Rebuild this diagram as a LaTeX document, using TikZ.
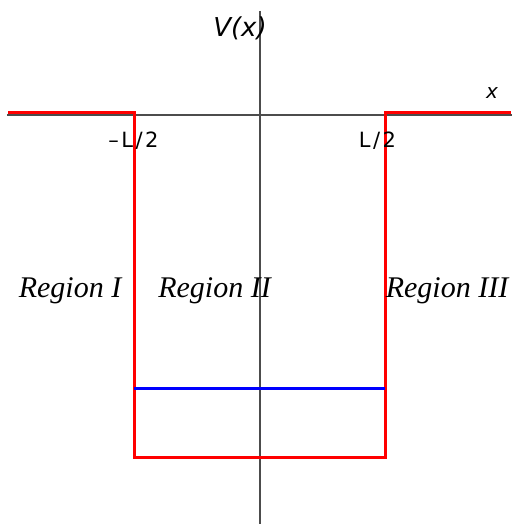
\documentclass[tikz,border=0pt]{standalone}
\usepackage{fontspec}
\usepackage{tikz}
\usetikzlibrary{positioning, calc}
\newfontfamily\lblfont{DejaVu Sans}
\newfontfamily\lblspaced[LetterSpace=12]{DejaVu Sans}
\newfontfamily\regfont{Liberation Serif}

\begin{document}
\begin{tikzpicture}[
    x=0.5pt, y=-0.5pt,
    axis/.style={draw=black!70, line width=1pt},
    pot/.style={draw=red, line width=1.5pt, line join=miter},
    lvl/.style={draw=blue, line width=1.5pt},
    lbl/.style={inner sep=0pt, anchor=base},
    reg/.style={inner sep=0pt, anchor=base, font=\regfont\itshape\fontsize{15}{18}\selectfont},
  ]
  \useasboundingbox (0,0) rectangle (512,524);

  % ---- axes
  \coordinate (xl) at (7,115);
  \coordinate (xr) at (512,115);
  \coordinate (vt) at (260,11);
  \coordinate (vb) at (260,524);
  \draw[axis] (xl) -- (xr);
  \draw[axis] (vt) -- (vb);

  % ---- well
  \coordinate (ol) at (8,113);
  \coordinate (tl) at (134,113);
  \coordinate (bl) at (134,457);
  \coordinate (br) at (385,457);
  \coordinate (tr) at (385,113);
  \coordinate (or) at (511,113);
  \draw[pot] (ol) -- (tl) -- (bl) -- (br) -- (tr) -- (or);

  % ---- energy level
  \coordinate (el) at (134,388.5);
  \coordinate (er) at (385,388.5);
  \draw[lvl] (el) -- (er);

  % ---- labels
  \node[lbl, font=\lblfont\itshape\fontsize{13}{15}\selectfont] (vx) at (240,37) {V(x)};
  \node[lbl, font=\lblfont\itshape\fontsize{10}{12}\selectfont] (xx) at (492,98) {x};
  \node[lbl, font=\lblspaced\fontsize{10.5}{12}\selectfont] (lm) at (133.5,148) {–L/2};
  \node[lbl, font=\lblspaced\fontsize{10.5}{12}\selectfont] (lp) at (377.5,148) {L/2};

  \node[reg] (r1) at (70,297) {Region I};
  \node[reg] (r2) at (214.5,297) {Region II};
  \node[reg] (r3) at (447,297) {Region III};
\end{tikzpicture}
\end{document}
